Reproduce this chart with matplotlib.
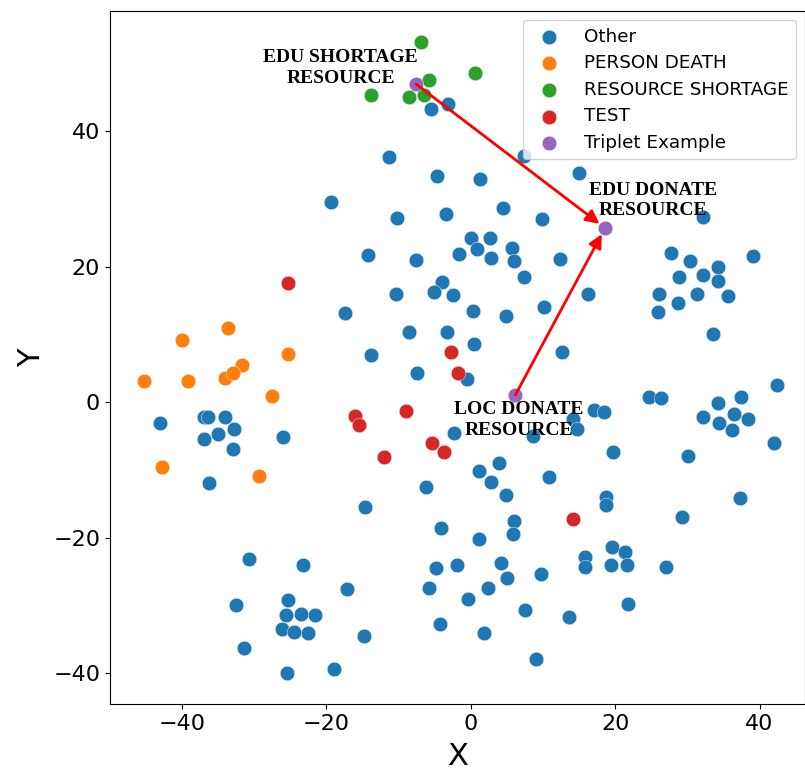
import numpy as np
import matplotlib
matplotlib.use('Agg')
import matplotlib.pyplot as plt

# t-SNE style embedding points
other_x = [-3.18, -5.49, -11.4, -4.66, -19.35, -10.2, -3.41, -14.3, -7.56, -1.7, -4.0, -10.3, -5.17, -2.49,
           -17.5, -8.53, -3.32, -13.8, -7.42,
           -43.0, -37.0, -36.45, -34.0, -32.8, -34.97, -37.04, -33.0, -26.0, -2.4, -36.3, -6.22, -14.6, -4.1,
           -30.7, -23.2, -4.84, -1.94, -5.76, -17.2, -32.5, -25.3, -25.6, -23.6, -21.66, -26.1, -24.5, -22.6,
           -4.24, -14.8, -31.4, -25.5, -19.0,
           7.41, 15.0, 1.29, 4.42, 9.85, 32.15, 0.0, 2.63, 0.92, 2.8, 5.75, 5.98, 12.4, 7.32, 16.3, 0.27, 4.88,
           10.2, 0.37, 12.7, 27.7, 30.35, 39.1, 28.9, 32.15, 34.2, 34.3, 35.7, 26.1, 28.65, 31.3, 26.0, 33.6,
           -0.6, 24.7, 26.4, 42.4, 34.3, 37.5, 32.2, 34.45, 36.4, 38.4, 36.25, 42.06, 17.1, 18.5, 14.2, 14.7,
           8.61, 19.67, 30.1, 3.91, 1.15, 2.76, 10.8, 4.84, 18.75, 18.66, 37.3, 29.3, 5.94, 5.89, 1.1, 4.15,
           5.0, 9.67, 2.4, -0.37, 15.85, 15.85, 19.6, 21.3, 19.4, 21.65, 27.0, 21.74, 7.55, 13.6, 1.84, 8.98]
other_y = [43.95, 43.2, 36.1, 33.4, 29.6, 27.2, 27.7, 21.7, 21.0, 21.9, 17.8, 16.0, 16.2, 15.8,
           13.2, 10.3, 10.3, 6.98, 4.37,
           -3.05, -2.21, -2.21, -2.21, -3.89, -4.68, -5.41, -6.93, -5.16, -4.58, -11.85, -12.5, -15.5, -18.5,
           -23.1, -24.0, -24.5, -24.0, -27.4, -27.6, -29.85, -29.2, -31.3, -31.2, -31.3, -33.4, -33.9, -34.0,
           -32.65, -34.5, -36.3, -40.0, -39.4,
           36.3, 33.8, 32.9, 28.65, 27.1, 27.3, 24.2, 24.2, 22.6, 21.3, 22.7, 20.9, 21.2, 18.5, 16.0, 13.5, 12.7,
           14.1, 8.55, 7.46, 22.0, 20.8, 21.5, 18.4, 18.8, 19.95, 17.85, 15.6, 16.0, 14.6, 15.9, 13.3, 10.1,
           3.43, 0.83, 0.63, 2.55, -0.1, 0.83, -2.17, -3.0, -1.73, -2.5, -4.09, -6.05, -1.14, -1.47, -2.5, -3.94,
           -4.97, -7.28, -7.96, -8.9, -10.1, -11.75, -11.0, -13.7, -13.9, -15.2, -14.07, -16.9, -17.5, -19.4, -20.1, -23.75,
           -25.9, -25.3, -27.4, -29.05, -22.8, -24.3, -21.4, -22.1, -23.95, -23.95, -24.3, -29.8, -30.7, -31.6, -34.1, -37.9]

death_x = [-33.6, -40.0, -25.35, -31.65, -45.3, -39.2, -34.1, -32.95, -27.6, -42.85, -29.4]
death_y = [10.9, 9.2, 7.08, 5.55, 3.14, 3.19, 3.54, 4.28, 0.98, -9.49, -10.9]

shortage_x = [-6.87, -5.8, -13.8, -8.57, -6.55, 0.55]
shortage_y = [53.1, 47.5, 45.3, 45.0, 45.3, 48.6]

test_x = [-25.35, -2.72, -1.8, -8.99, -16.0, -15.5, -5.44, -3.65, -11.98, 14.1]
test_y = [17.6, 7.46, 4.37, -1.23, -1.97, -3.35, -5.95, -7.28, -8.12, -17.2]

# triplet: EDU SHORTAGE RESOURCE, EDU DONATE RESOURCE, LOC DONATE RESOURCE
triplet_x = [-7.56, 18.6, 6.17]
triplet_y = [46.9, 25.7, 1.08]
triplet_names = ['EDU SHORTAGE\nRESOURCE', 'EDU DONATE\nRESOURCE', 'LOC DONATE\nRESOURCE']
name_x = [-18.07, 25.2, 6.68]
name_y = [49.3, 29.7, -2.6]

fig = plt.figure(figsize=(8.05, 7.7), dpi=100)
ax = fig.add_axes([0.1366, 0.0857, 0.8634, 0.9])

kw = dict(s=110, edgecolors='white', linewidths=0.3)
ax.scatter(other_x, other_y, c='#1f77b4', label='Other', **kw)
ax.scatter(death_x, death_y, c='#ff7f0e', label='PERSON DEATH', **kw)
ax.scatter(shortage_x, shortage_y, c='#2ca02c', label='RESOURCE SHORTAGE', **kw)
ax.scatter(test_x, test_y, c='#d62728', label='TEST', **kw)
ax.scatter(triplet_x, triplet_y, c='#9467bd', label='Triplet Example', **kw)

# arrows into EDU DONATE RESOURCE
for i in [0, 2]:
    ax.annotate('', xy=(triplet_x[1], triplet_y[1]), xytext=(triplet_x[i], triplet_y[i]),
                arrowprops=dict(arrowstyle='-|>', color='red', lw=2, mutation_scale=20,
                                shrinkA=0, shrinkB=5))

for name, tx, ty in zip(triplet_names, name_x, name_y):
    ax.text(tx, ty, name, ha='center', va='center', fontsize=14, fontweight='bold',
            family='Liberation Serif', linespacing=1.25)

ax.set_xlim(-50, 46.3)
ax.set_ylim(-44.5, 57.7)
ax.set_xticks([-40, -20, 0, 20, 40])
ax.set_yticks([-40, -20, 0, 20, 40])
ax.tick_params(labelsize=16)
ax.set_xlabel('X', fontsize=22, labelpad=6)
ax.set_ylabel('Y', fontsize=22, labelpad=5)

ax.legend(loc='upper right', fontsize=13.2, labelspacing=0.47, handletextpad=0.9,
          borderaxespad=0.5)

plt.savefig('out.png', dpi=100)
